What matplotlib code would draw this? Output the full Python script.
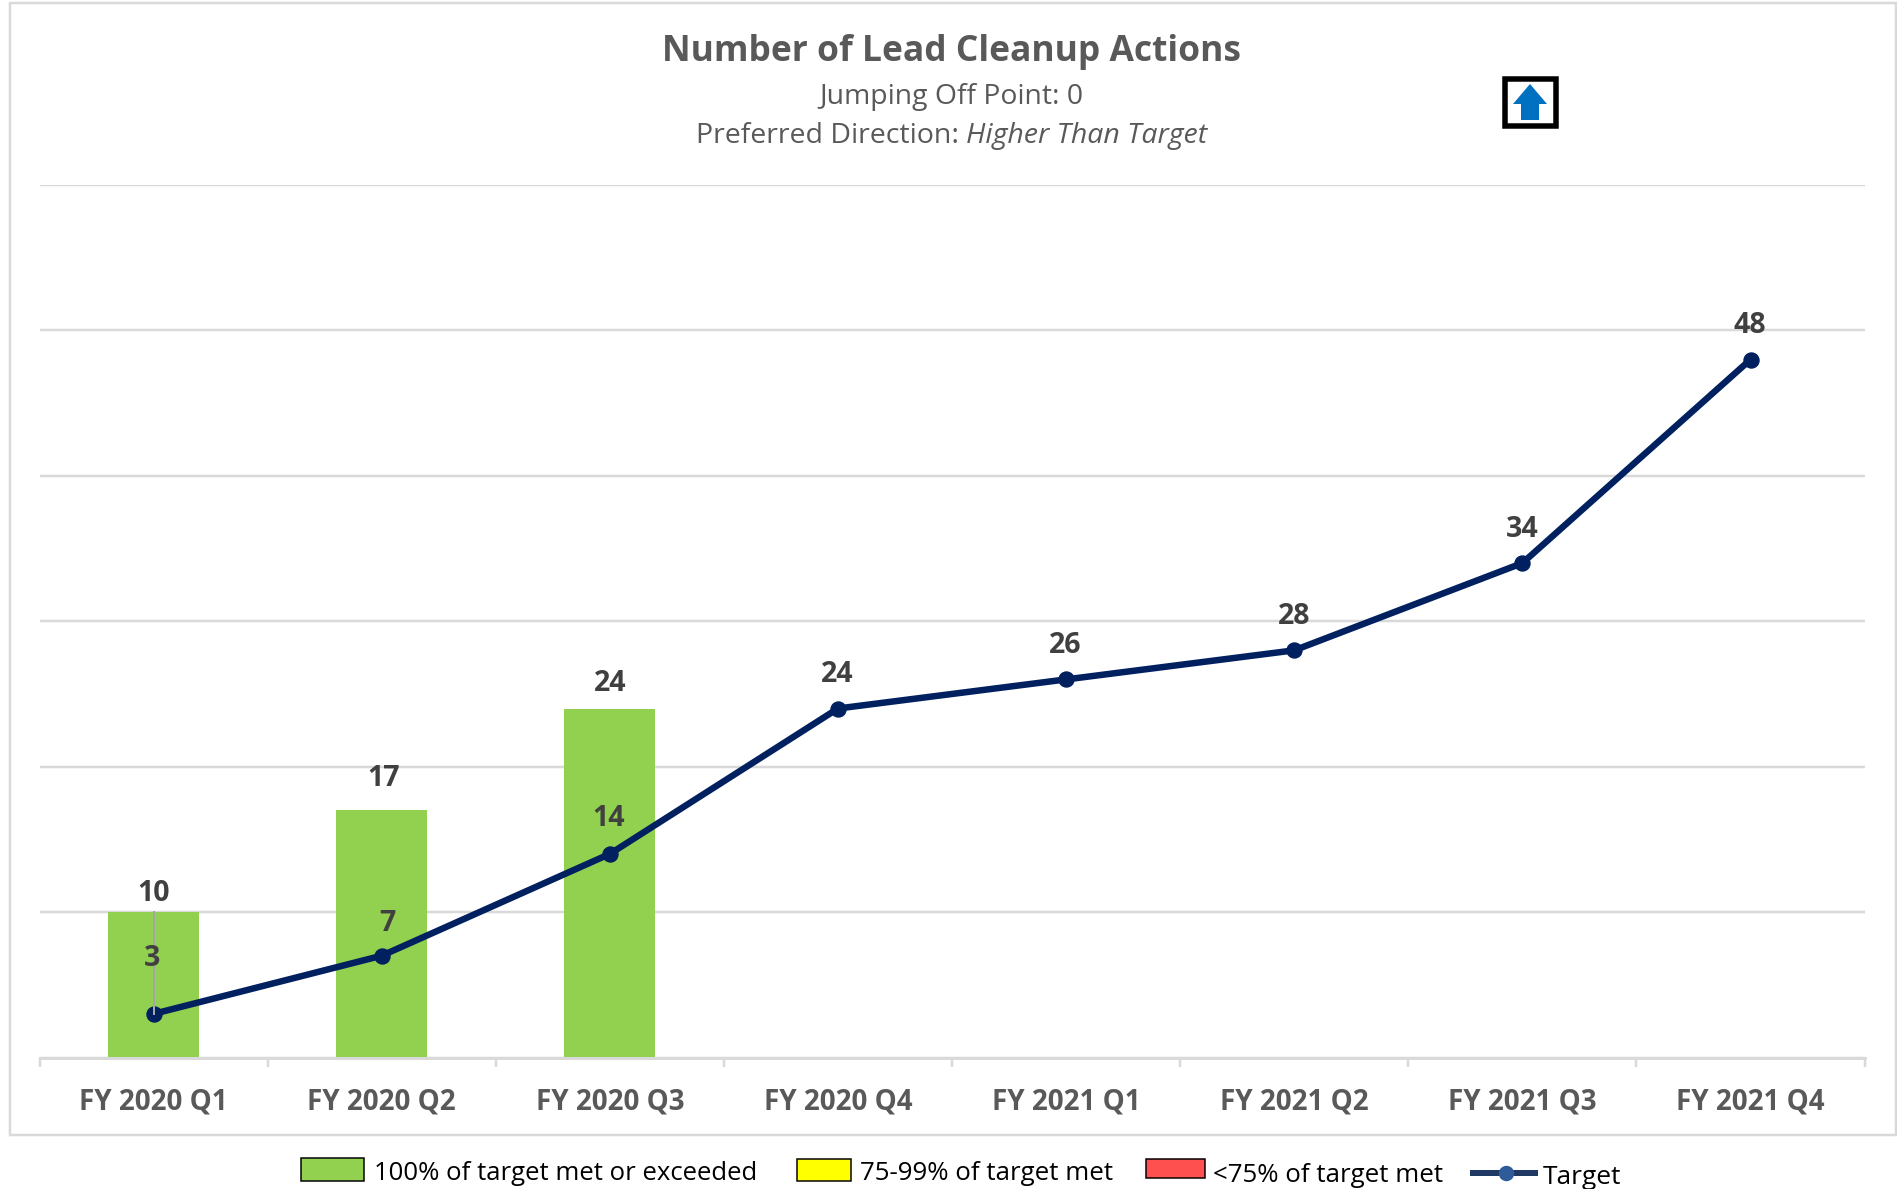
#!/usr/bin/env python3
import matplotlib
matplotlib.use('Agg')
import matplotlib.pyplot as plt
from matplotlib.patches import Rectangle, Polygon

# chart data
quarters = ['FY 2020 Q1', 'FY 2020 Q2', 'FY 2020 Q3', 'FY 2020 Q4',
            'FY 2021 Q1', 'FY 2021 Q2', 'FY 2021 Q3', 'FY 2021 Q4']
actuals = [10, 17, 24]
targets = [3, 7, 14, 24, 26, 28, 34, 48]
grid_values = [0, 10, 20, 30, 40, 50, 60]

# label nudges in pixels (dx, dy up from the mark)
actual_nudge = [(0, 19), (2, 32), (0, 25)]
target_nudge = [(-2, 55), (6, 32), (-1, 35), (-1, 34), (-1, 34), (0, 34), (0, 34), (-1, 34)]

GRID = '#D9D9D9'
BAR = '#92D050'
LINE = '#002060'
W, H = 1897, 1189
PX = 72 / 100  # points per pixel at dpi 100

plt.rcParams['font.family'] = ['Open Sans', 'DejaVu Sans']

fig = plt.figure(figsize=(W / 100, H / 100), dpi=100, facecolor='white')

# plot area
left, right, top, bottom = 39.5, 1864.6, 185, 1057.5
ax = fig.add_axes([left / W, 1 - bottom / H, (right - left) / W, (bottom - top) / H])
ax.set_xlim(-0.5, 7.5)
ax.set_ylim(0, 60)
ax.patch.set_alpha(0)
for s in ['top', 'left', 'right']:
    ax.spines[s].set_visible(False)
ax.spines['bottom'].set_color(GRID)
ax.spines['bottom'].set_linewidth(3 * PX)
ax.set_yticks(grid_values)
ax.set_yticklabels([])
ax.tick_params(axis='y', length=0)
ax.set_axisbelow(True)
ax.grid(axis='y', color=GRID, linewidth=2.5 * PX)

ax.set_xticks([i - 0.5 for i in range(len(quarters) + 1)])
ax.set_xticklabels([])
ax.tick_params(axis='x', length=9 * PX, width=2.5 * PX, color=GRID)
for i, q in enumerate(quarters):
    ax.annotate(q, (i, 0), xytext=(0, -44 * PX), textcoords='offset points',
                ha='center', va='center', fontsize=20, fontweight='bold', color='#595959')

xs = list(range(len(quarters)))
ax.bar(xs[:len(actuals)], actuals, width=0.4, color=BAR, zorder=2)
ax.plot([0, 0], [targets[0], actuals[0]], color='#A6A6A6', linewidth=2 * PX, zorder=2.5)
ax.plot(xs, targets, color=LINE, linewidth=6.5 * PX, marker='o',
        markersize=15 * PX, markerfacecolor=LINE, markeredgecolor=LINE, zorder=3,
        solid_capstyle='round')
ax.plot([0, 0], [targets[0], 3.6], color='#A6A6A6', linewidth=2 * PX, zorder=3.5)

for i, v in enumerate(actuals):
    dx, dy = actual_nudge[i]
    ax.annotate(str(v), (i, v), xytext=(dx * PX, dy * PX), textcoords='offset points',
                ha='center', va='center', fontsize=20.5, fontweight='bold', color='#404040', zorder=5)
for i, v in enumerate(targets):
    dx, dy = target_nudge[i]
    ax.annotate(str(v), (i, v), xytext=(dx * PX, dy * PX), textcoords='offset points',
                ha='center', va='center', fontsize=20.5, fontweight='bold', color='#404040', zorder=5)

# overlay in pixel coordinates for the frame, titles, icon and legend
pg = fig.add_axes([0, 0, 1, 1], zorder=-1)
pg.set_xlim(0, W)
pg.set_ylim(H, 0)
pg.axis('off')
pg.add_patch(Rectangle((10, 2.5), W - 11, 1132, fill=False, edgecolor=GRID, linewidth=2.5 * PX))

ov = fig.add_axes([0, 0, 1, 1], zorder=5)
ov.set_xlim(0, W)
ov.set_ylim(H, 0)
ov.axis('off')

ov.text(952, 52, 'Number of Lead Cleanup Actions', ha='center', va='center',
        fontsize=25.5, fontweight='bold', color='#595959')
ov.text(951, 97, 'Jumping Off Point: 0', ha='center', va='center', fontsize=20.4, color='#595959')
ov.text(959, 136, 'Preferred Direction:', ha='right', va='center', fontsize=20.5, color='#595959')
ov.text(966, 136, 'Higher Than Target', ha='left', va='center', fontsize=20.5,
        style='italic', color='#595959')

# direction icon
ov.add_patch(Rectangle((1505, 79), 51, 47, facecolor='white', edgecolor='black', linewidth=5.5 * PX))
ov.add_patch(Polygon([(1530, 84), (1547, 104), (1539, 104), (1539, 120),
                      (1521, 120), (1521, 104), (1513, 104)],
                     closed=True, facecolor='#0070C0', edgecolor='none'))

# legend
for x0, x1, y0, y1, col in [(301, 364, 1158, 1181, BAR),
                            (797, 851, 1159, 1181, '#FFFF00'),
                            (1146, 1205, 1159, 1178, '#FF5050')]:
    ov.add_patch(Rectangle((x0, y0), x1 - x0, y1 - y0, facecolor=col, edgecolor='black', linewidth=1.5 * PX))
ov.text(374, 1173, '100% of target met or exceeded', va='center', fontsize=18.5, color='black')
ov.text(860, 1173, '75-99% of target met', va='center', fontsize=18.6, color='black')
ov.text(1213, 1175, '<75% of target met', va='center', fontsize=18.6, color='black')
ov.plot([1473, 1535], [1173, 1173], color='#1F3864', linewidth=6 * PX, marker=None)
ov.plot([1506], [1173], marker='o', markersize=14 * PX, color='#2F5C99')
ov.text(1543, 1177, 'Target', va='center', fontsize=19, color='black')

fig.savefig('out.png', dpi=100)
